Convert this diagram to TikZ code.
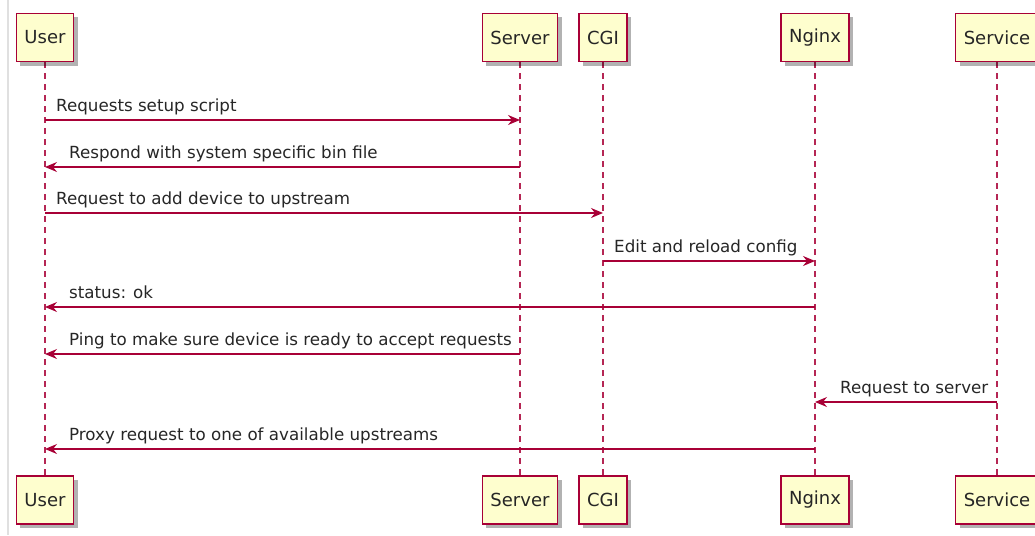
\documentclass[tikz,border=0pt]{standalone}
\usepackage{fontspec}
\setmainfont{DejaVu Sans}
\usetikzlibrary{arrows.meta,shadows,positioning}
\definecolor{umlred}{HTML}{A80036}
\definecolor{umlfill}{HTML}{FEFECE}

\begin{document}
\begin{tikzpicture}[
    x=1pt, y=-1pt,
    actor/.style={rectangle, draw=umlred, line width=1.2pt, fill=umlfill,
                  minimum height=48pt, inner xsep=8pt, text=black!85,
                  font=\fontsize{18}{20}\selectfont,
                  drop shadow={shadow xshift=4pt, shadow yshift=-4pt, opacity=0.3, fill=black}},
    lifeline/.style={draw=umlred!85, dash pattern=on 6pt off 5pt, line width=1.2pt},
    msg/.style={-{Stealth[length=12pt, width=10pt, inset=4pt]}, draw=umlred, fill=umlred, line width=1.2pt},
    lbl/.style={anchor=base west, inner sep=0pt, text=black!85,
                font=\fontsize{16.7}{18}\selectfont}
]
\useasboundingbox (0,0) rectangle (1035,535);
\clip (0,0) rectangle (1035,535);

%% frame edge
\draw[black!12, line width=1.5pt] (8,0) -- (8,535);

%% lifelines (drawn first, boxes on top)
\coordinate (uTop) at (45,40);
\coordinate (uBot) at (45,500);
\draw[lifeline] (uTop) -- (uBot);
\coordinate (sTop) at (520,40);
\coordinate (sBot) at (520,500);
\draw[lifeline] (sTop) -- (sBot);
\coordinate (cTop) at (603,40);
\coordinate (cBot) at (603,500);
\draw[lifeline] (cTop) -- (cBot);
\coordinate (nTop) at (815,40);
\coordinate (nBot) at (815,500);
\draw[lifeline] (nTop) -- (nBot);
\coordinate (vTop) at (997,40);
\coordinate (vBot) at (997,500);
\draw[lifeline] (vTop) -- (vBot);

%% participants (top / bottom)
\node[actor] (user)     at (uTop |- 0,37.5) {User};
\node[actor] (server)   at (sTop |- 0,37.5) {Server};
\node[actor] (cgi)      at (cTop |- 0,37.5) {CGI};
\node[actor] (nginx)    at (nTop |- 0,37.5) {Nginx};
\node[actor] (service)  at (vTop |- 0,37.5) {Service};

\node[actor] (userB)    at (uBot) {User};
\node[actor] (serverB)  at (sBot) {Server};
\node[actor] (cgiB)     at (cBot) {CGI};
\node[actor] (nginxB)   at (nBot) {Nginx};
\node[actor] (serviceB) at (vBot) {Service};

%% messages
\draw[msg] (user.south |- 0,120) -- (server.south |- 0,120);
\node[lbl] (m1) at (56,111) {Requests setup script};

\draw[msg] (server.south |- 0,167) -- (user.south |- 0,167);
\node[lbl] (m2) at (69,158) {Respond with system specific bin file};

\draw[msg] (user.south |- 0,213) -- (cgi.south |- 0,213);
\node[lbl] (m3) at (56,204) {Request to add device to upstream};

\draw[msg] (cgi.south |- 0,261) -- (nginx.south |- 0,261);
\node[lbl] (m4) at (614,252) {Edit and reload config};

\draw[msg] (nginx.south |- 0,307) -- (user.south |- 0,307);
\node[lbl] (m5) at (69,298) {status: ok};

\draw[msg] (server.south |- 0,354) -- (user.south |- 0,354);
\node[lbl] (m6) at (69,345) {Ping to make sure device is ready to accept requests};

\draw[msg] (service.south |- 0,402) -- (nginx.south |- 0,402);
\node[lbl] (m7) at (840,393) {Request to server};

\draw[msg] (nginx.south |- 0,449) -- (user.south |- 0,449);
\node[lbl] (m8) at (69,440) {Proxy request to one of available upstreams};

\end{tikzpicture}
\end{document}
